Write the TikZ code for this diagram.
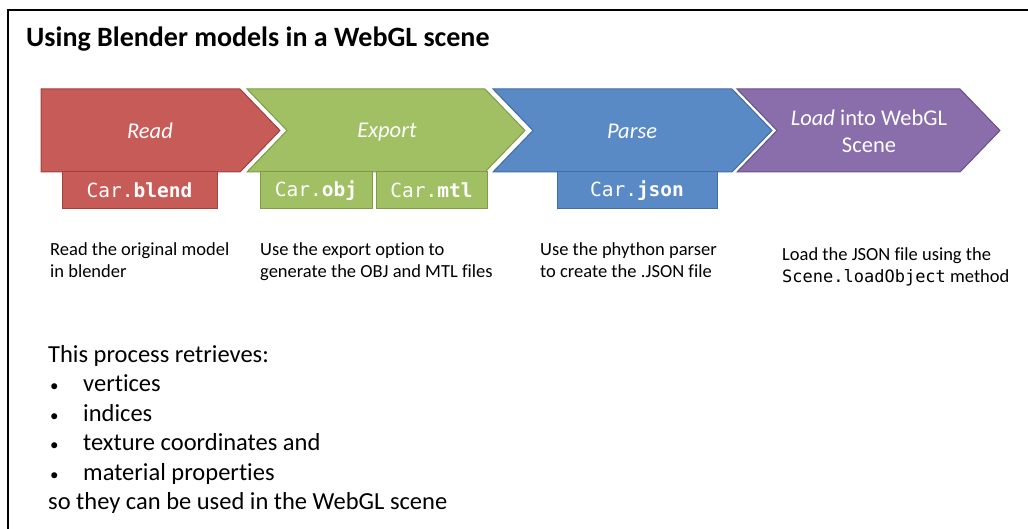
\documentclass[tikz,border=0pt]{standalone}
\usepackage{fontspec}
\setmainfont{Carlito}[Ligatures=NoCommon]
\setmonofont{DejaVu Sans Mono}
\definecolor{redfill}{HTML}{C65B58}
\definecolor{reddraw}{HTML}{A0413E}
\definecolor{greenfill}{HTML}{A0C063}
\definecolor{greendraw}{HTML}{7E9B45}
\definecolor{bluefill}{HTML}{5A8AC6}
\definecolor{bluedraw}{HTML}{3F6DA5}
\definecolor{purplefill}{HTML}{8A6DAB}
\definecolor{purpledraw}{HTML}{6A4F8A}
\usetikzlibrary{positioning}
\newcommand{\bulletitem}[1]{\hspace*{2pt}\makebox[33pt][l]{\fontsize{17}{17}\selectfont\textbullet}#1}

\begin{document}
\begin{tikzpicture}[
  x=1pt, y=-1pt,
  chev/.style={line width=1pt, line join=miter},
  stagelabel/.style={text=white, font=\fontsize{22.5}{27}\selectfont, align=center},
  filebox/.style={line width=1pt, text=white, font=\fontsize{19.5}{20}\selectfont\ttfamily,
                  inner sep=0pt},
  desc/.style={anchor=north west, align=left, inner sep=0pt,
               font=\fontsize{18.5}{22}\selectfont},
]
\useasboundingbox (0,0) rectangle (1028,529);
% frame
\draw[line width=1.6pt] (8,529) -- (8,10) -- (1028,10);
\node[anchor=base west, inner sep=0pt, font=\fontsize{28}{32}\selectfont\bfseries]
  (title) at (26,47) {Using Blender models in a WebGL scene};

% chevrons
\filldraw[chev, fill=redfill, draw=reddraw]
  (41,89) -- (240,89) -- (280,130.5) -- (240,172) -- (41,172) -- cycle;
\filldraw[chev, fill=greenfill, draw=greendraw]
  (247,89) -- (485,89) -- (525,130.5) -- (485,172) -- (247,172) -- (287,130.5) -- cycle;
\filldraw[chev, fill=bluefill, draw=bluedraw]
  (493,89) -- (732,89) -- (772,130.5) -- (732,172) -- (493,172) -- (533,130.5) -- cycle;
\filldraw[chev, fill=purplefill, draw=purpledraw]
  (737,89) -- (960,89) -- (1000,130.5) -- (960,172) -- (737,172) -- (777,130.5) -- cycle;

\node[stagelabel] (read) at (150,131) {\itshape Read};
\node[stagelabel] (export) at (387,132) {\itshape Export};
\node[stagelabel] (parse) at (632,131) {\itshape Parse};
\node[stagelabel] (load) at (869,131) {\textit{Load} into WebGL\\Scene};

% file boxes
\node[filebox, fill=redfill, draw=reddraw, minimum width=155pt, minimum height=37pt]
  (blend) at (139.5,190.5) {Car.\textbf{blend}};
\node[filebox, fill=greenfill, draw=greendraw, minimum width=112pt, minimum height=37pt]
  (obj) at (316,190.5) {Car.\textbf{obj}};
\node[filebox, fill=greenfill, draw=greendraw, minimum width=111pt, minimum height=37pt]
  (mtl) at (431.5,190.5) {Car.\textbf{mtl}};
\node[filebox, fill=bluefill, draw=bluedraw, minimum width=160pt, minimum height=37pt]
  (json) at (637,190.5) {Car.\textbf{json}};

% descriptions
\node[desc] (d1) at (50,242) {Read the original model\\in blender};
\node[desc] (d2) at (260,242) {Use the export option to\\generate the OBJ and MTL files};
\node[desc] (d3) at (540,242) {Use the phython parser\\to create the .JSON file};
\node[desc] (d4) at (782,247) {Load the JSON file using the\\{\ttfamily\fontsize{17}{22}\selectfont Scene.loadObject} method};

% summary
\node[anchor=north west, align=left, inner sep=0pt, font=\fontsize{24.5}{29.5}\selectfont]
  (summary) at (48,345) {This process retrieves:\\
  \bulletitem{vertices}\\
  \bulletitem{indices}\\
  \bulletitem{texture coordinates and}\\
  \bulletitem{material properties}\\
  so they can be used in the WebGL scene};
\end{tikzpicture}
\end{document}
